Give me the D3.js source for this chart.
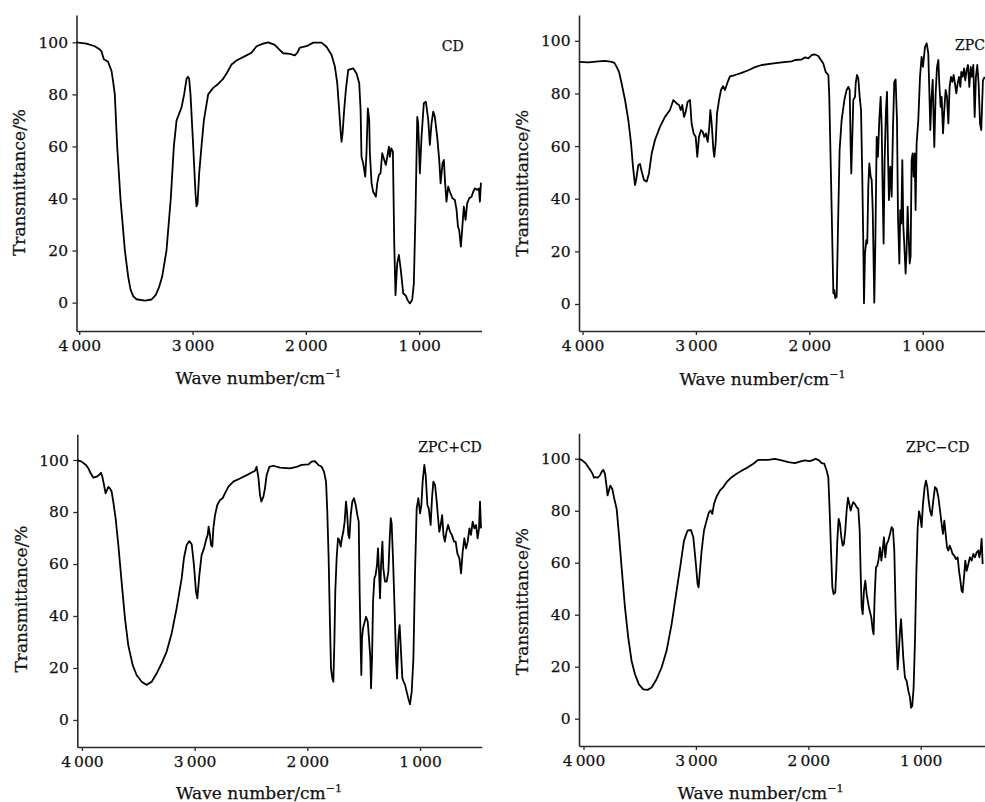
<!DOCTYPE html>
<html>
<head>
<meta charset="utf-8">
<script src="https://cdn.jsdelivr.net/npm/d3@7"></script>
<style>
  html, body { margin: 0; padding: 0; background: #ffffff; }
  svg { display: block; }
  text { font-family: "DejaVu Serif", serif; fill: #111; stroke: #111; stroke-width: 0.25px; }
</style>
</head>
<body>
<svg id="chart" width="985" height="802"></svg>
<script>
// ---------------- data ----------------
const xTickValues = [4000, 3000, 2000, 1000];
const yTickValues = [0, 20, 40, 60, 80, 100];
const xTitleText = "Wave number/cm";
const xTitleSup = "\u22121";
const yTitleText = "Transmittance/%";
const sampleLabels = ["CD", "ZPC", "ZPC+CD", "ZPC\u2212CD"];

// [wave number (cm^-1), transmittance (%)]
const cdSpectrum = [[4024,100],[3936,99.5],[3862,98.5],[3818,97.2],[3803,96.5],[3783,93.5],[3745,92.5],[3715,89],[3701,85],[3686,80],[3665,60],[3636,40],[3597,20],[3568,10],[3547,5],[3524,2.5],[3495,1.3],[3421,0.8],[3362,1.2],[3324,3],[3295,6],[3268,10],[3230,20],[3192,40],[3165,60],[3141,70],[3097,75],[3074,80],[3053,86],[3041,86.8],[3030,86],[3018,80],[2994,60],[2974,42],[2965,37],[2956,38],[2941,50],[2921,60],[2900,70],[2862,80],[2818,82.5],[2774,84],[2730,86],[2700,88],[2656,91.5],[2612,93],[2524,95],[2480,96],[2435,98.5],[2377,99.5],[2332,100],[2274,99],[2229,97],[2200,95.8],[2141,95.6],[2097,95],[2076,96],[2053,98],[1994,98.5],[1935,99.9],[1862,99.9],[1818,98.3],[1773,95.1],[1744,90.7],[1723,84.3],[1706,74],[1694,66.3],[1685,61.8],[1676,65],[1662,74],[1647,81.7],[1626,89.4],[1582,90],[1553,88],[1529,84.3],[1517,74],[1509,56],[1494,53.5],[1476,48.4],[1465,57.4],[1453,74.6],[1441,70.2],[1435,57.4],[1420,45.8],[1406,42.6],[1382,40.7],[1370,45.8],[1356,49],[1341,49.7],[1326,57.4],[1312,55.4],[1294,52.9],[1282,56],[1267,59.9],[1259,56],[1247,59.3],[1232,58],[1220,22.8],[1209,2.9],[1194,15.1],[1179,18.3],[1162,12.5],[1141,3.6],[1117,2.6],[1103,1],[1082,-0.3],[1062,1],[1047,7.4],[1032,35.6],[1017,71.4],[1009,68.9],[994,49.7],[979,63.8],[959,76.6],[941,77.2],[920,70.2],[906,60.6],[891,68.9],[876,73.4],[862,71.4],[841,63.8],[823,54.8],[811,45.8],[794,53.5],[782,54.8],[771,45.8],[759,38.8],[744,44.6],[729,42.6],[706,40.1],[685,39.4],[670,35.6],[658,29.2],[647,27.9],[632,21.5],[621,27.9],[606,36.9],[591,31.8],[576,38.2],[558,40.1],[538,40.7],[523,42.6],[508,43.9],[488,43.3],[473,43.9],[464,38.8],[455,46.1]];

const zpcSpectrum = [[4031,92],[3949,91.8],[3860,92.2],[3802,92.4],[3743,92],[3719,91.6],[3699,90.1],[3678,88.2],[3655,83.8],[3625,77.5],[3596,69.9],[3572,61],[3555,52.2],[3537,45.2],[3525,47.7],[3508,52.8],[3493,53.2],[3478,50.3],[3458,47.1],[3434,46.5],[3414,49.6],[3390,57.2],[3361,62.3],[3317,67.3],[3273,71.1],[3229,73.7],[3199,77.5],[3170,76.2],[3149,75.6],[3134,73.7],[3120,75.6],[3105,71.1],[3090,73],[3073,76.8],[3052,77.5],[3038,68.6],[3020,64.8],[3002,63.5],[2988,55.9],[2973,63.5],[2955,66.1],[2940,65.4],[2926,63.5],[2911,64.8],[2896,61.6],[2882,67.3],[2873,73.7],[2861,68.6],[2846,58.5],[2838,55.9],[2826,61],[2814,72.4],[2796,77.5],[2779,81.3],[2761,82.8],[2744,81.3],[2723,84],[2700,86.5],[2655,87],[2597,87.8],[2538,88.8],[2479,90],[2420,90.8],[2332,91.3],[2244,91.8],[2156,92.2],[2126,92.7],[2068,92.9],[2038,93.7],[2009,93.3],[1979,94.6],[1950,94.8],[1921,94.2],[1877,91.4],[1856,88.2],[1832,87],[1824,78.7],[1809,48.4],[1797,23],[1788,4.1],[1780,5.3],[1771,2.2],[1759,2.8],[1744,35.7],[1733,58.5],[1715,69.9],[1691,77.5],[1671,81.3],[1656,82.5],[1644,81.3],[1635,58.5],[1630,49.6],[1621,63.5],[1612,77.5],[1597,78.7],[1591,83.8],[1580,87],[1568,85.7],[1556,78.7],[1544,73.7],[1533,48.4],[1524,23],[1518,0.3],[1509,19.2],[1497,24.3],[1489,23],[1480,44.6],[1471,53.4],[1459,48.4],[1450,47.1],[1441,35.7],[1433,15.4],[1427,0.5],[1418,23],[1406,63.5],[1395,55.9],[1383,69.9],[1371,78.7],[1362,67.3],[1353,42],[1345,23],[1336,54.7],[1324,73.7],[1315,80.6],[1306,55.9],[1298,39.5],[1286,52.2],[1274,40.8],[1262,67.3],[1251,84.4],[1239,85.3],[1227,69.9],[1218,33.2],[1206,15.4],[1198,35.7],[1189,30.6],[1180,54.7],[1171,29.4],[1163,23],[1151,11.6],[1142,20.5],[1133,37],[1124,25.6],[1115,15.4],[1107,18],[1098,54.7],[1089,57.2],[1080,48.4],[1071,57.2],[1063,35.7],[1054,61],[1039,69.9],[1024,86.3],[1010,93.9],[998,90.1],[980,97.7],[965,99],[951,95.2],[942,81.3],[933,66.1],[924,77.5],[912,85.1],[904,69.9],[898,59.7],[886,80],[874,90.1],[862,92.7],[854,83.8],[842,74.9],[833,78.7],[821,64.8],[810,73.7],[798,81.3],[786,78.7],[774,68.6],[763,82.5],[751,86.3],[739,84.4],[727,87],[716,83.8],[704,80],[692,83.8],[680,86.3],[668,82.5],[660,88.2],[648,86.3],[636,89.5],[625,85],[613,88.9],[601,90.8],[589,82.5],[577,90.1],[566,86.3],[554,90.8],[542,71.1],[531,86.3],[519,90.8],[507,83.8],[495,68.6],[484,66.1],[469,85],[454,86.3]];

const zpcPlusCdSpectrum = [[4041,100],[4003,99.4],[3964,98.1],[3943,96.8],[3922,94.9],[3899,93.2],[3869,93.6],[3849,94.2],[3831,95.1],[3819,93.6],[3804,90.4],[3790,87.2],[3781,88.1],[3766,89.7],[3751,89.1],[3736,87.8],[3722,84],[3701,77.6],[3677,67.3],[3648,53.2],[3618,39.1],[3589,28.8],[3550,21.2],[3515,17.3],[3470,14.7],[3426,13.5],[3381,14.7],[3337,17.9],[3293,21.8],[3248,26.3],[3204,33.3],[3160,42.9],[3115,54.5],[3095,62.2],[3071,67.3],[3047,68.8],[3026,67.6],[3006,59.6],[2988,49.4],[2976,46.8],[2958,55.8],[2938,63.5],[2917,66],[2899,69.2],[2884,71.2],[2876,74.4],[2864,71.2],[2854,67.3],[2843,66.7],[2834,73.7],[2819,78.8],[2799,82.7],[2775,84.6],[2751,85.3],[2731,87.2],[2701,89.7],[2657,91.7],[2598,92.9],[2524,94.5],[2464,95.9],[2450,97.4],[2435,93.6],[2420,86.5],[2408,84],[2390,85.9],[2376,89.1],[2361,94.2],[2337,97.4],[2302,97.8],[2243,97.1],[2154,96.8],[2095,97.4],[2050,98.1],[1991,98.3],[1962,99.4],[1932,99.6],[1902,98.1],[1873,97.4],[1852,95.5],[1834,91.7],[1823,80.1],[1811,62.2],[1799,36.5],[1790,19.9],[1778,16],[1769,14.7],[1760,30.1],[1752,49.4],[1740,62.2],[1728,69.9],[1716,69.2],[1704,66.7],[1693,69.9],[1681,72.4],[1669,76.3],[1657,84],[1648,80.1],[1636,71.2],[1627,69.9],[1615,78.8],[1601,84],[1586,85.3],[1571,82.7],[1556,78.8],[1544,76.3],[1536,49.4],[1527,28.8],[1521,17.3],[1515,31.4],[1506,35.3],[1491,37.8],[1479,39.7],[1464,37.8],[1453,31.4],[1441,23.7],[1435,12.2],[1426,23.7],[1417,45.5],[1405,54.5],[1394,55.8],[1382,59.6],[1373,66],[1364,57.1],[1355,46.8],[1346,59.6],[1334,68.6],[1326,58.3],[1311,53.2],[1296,53.2],[1281,57.1],[1269,69.9],[1260,77.6],[1252,75.6],[1240,62.2],[1225,41.7],[1213,23.7],[1204,16],[1192,31.4],[1181,36.5],[1169,26.3],[1157,16],[1145,14.7],[1133,13.5],[1119,10.9],[1104,8.3],[1089,6],[1074,10.9],[1059,23.7],[1045,55.8],[1030,81.4],[1015,85.3],[1000,79.5],[988,82.7],[977,91.7],[962,98.1],[950,94.2],[935,82.7],[923,81.4],[906,75],[894,85.3],[882,91.7],[867,90.4],[852,84],[840,77.6],[829,72.4],[817,75],[804,78.8],[792,71.2],[780,68.6],[766,72.4],[751,75],[734,72.4],[718,71.2],[698,68.6],[684,68.6],[669,64.1],[651,62.2],[636,56.4],[622,64.7],[607,69.9],[592,66],[577,68.6],[562,73.7],[548,71.2],[533,76.3],[518,73.7],[503,75],[489,69.9],[477,73.7],[468,84],[459,73.7]];

const zpcMinusCdSpectrum = [[4041,100],[4011,99.4],[3981,98.3],[3958,96.8],[3937,95.5],[3919,94.2],[3907,92.7],[3892,92.9],[3874,92.7],[3854,93.6],[3839,94.9],[3824,95.8],[3809,94.2],[3794,89.1],[3786,85.9],[3774,87.8],[3762,89.7],[3744,88.4],[3726,84.6],[3705,80.7],[3685,71.1],[3661,58.2],[3631,42.8],[3602,31.2],[3572,22.2],[3542,17.1],[3507,13.2],[3468,11.3],[3430,11.1],[3394,12],[3350,15.2],[3305,19.7],[3261,26.1],[3216,36.4],[3172,49.2],[3136,59.5],[3106,68.5],[3074,72.4],[3044,72.6],[3023,69.8],[3000,59.5],[2985,51.8],[2976,50.5],[2964,56.9],[2949,64.7],[2928,72.4],[2905,76.2],[2884,79.4],[2869,80.1],[2854,78.8],[2839,82.6],[2816,85.5],[2786,87.8],[2756,89.1],[2727,91],[2682,92.9],[2638,94.2],[2578,95.8],[2534,96.8],[2489,98.1],[2445,99.6],[2356,99.6],[2297,100],[2237,99.4],[2178,98.7],[2119,98.3],[2059,99.1],[2030,99.4],[1985,99.1],[1955,99.6],[1935,100],[1905,99.4],[1881,98.3],[1858,98.1],[1837,95.5],[1822,92.9],[1810,80.1],[1798,64.7],[1786,50.5],[1775,47.9],[1760,48.6],[1751,56.9],[1742,68.5],[1730,76.9],[1718,74.9],[1706,69.8],[1694,66.6],[1683,67.2],[1671,72.4],[1659,80.1],[1647,85],[1635,82.6],[1623,80.1],[1611,82],[1600,83.3],[1585,82.6],[1570,81.4],[1555,80.7],[1543,72.4],[1534,55.7],[1525,42.8],[1516,40.2],[1505,49.2],[1493,53.1],[1481,47.9],[1466,44.1],[1454,41.5],[1439,38.9],[1428,34.4],[1419,32.5],[1410,46.7],[1398,58.2],[1386,58.9],[1374,61.4],[1362,65.9],[1350,60.8],[1339,64.7],[1327,69.8],[1315,62.1],[1303,67.2],[1288,68.5],[1273,71.1],[1259,73.7],[1247,73],[1235,64.7],[1223,41.5],[1214,28.7],[1205,19],[1196,24.8],[1184,33.8],[1175,38.3],[1167,32.5],[1155,23.5],[1140,15.8],[1125,14.5],[1110,10.7],[1095,8.1],[1086,4.2],[1075,4.9],[1063,12],[1051,29.9],[1039,55.7],[1027,73.7],[1015,79.8],[1003,77.5],[992,73.7],[980,82.6],[965,89.1],[953,91.6],[941,89.1],[929,83.9],[917,80.1],[903,78.1],[888,83.9],[873,89.1],[858,88.4],[843,85.2],[828,80.1],[814,74.9],[802,71.1],[790,76.2],[778,71.1],[766,65.9],[754,64.7],[742,66.6],[730,65.3],[716,63.4],[701,62.7],[686,61.4],[671,62.1],[659,56.9],[647,53.1],[636,49.2],[627,48.6],[615,54.4],[603,60.8],[591,56.9],[576,59.5],[562,62.1],[547,60.8],[532,63.4],[517,62.1],[502,64],[487,64.7],[478,62.1],[467,64.7],[458,69.2],[449,59.5]];

// ---------------- layout ----------------
const panels = [
  { data: cdSpectrum,         label: sampleLabels[0],
    xDom: [4024, 450], xRange: [76.5, 481.5], yDom: [-10.9, 110.5], yRange: [331, 15],
    labelPos: [441.7, 51.3], xTitlePos: [258.5, 384], yTitlePos: [25, 182.5] },
  { data: zpcSpectrum,        label: sampleLabels[1],
    xDom: [4031, 420], xRange: [579, 988.5], yDom: [-10.25, 109.8], yRange: [331, 15],
    labelPos: [955, 50], xTitlePos: [762.5, 385], yTitlePos: [528.3, 183.3] },
  { data: zpcPlusCdSpectrum,  label: sampleLabels[2],
    xDom: [4041, 453], xRange: [77.3, 481.7], yDom: [-10.4, 109.9], yRange: [747, 434.3],
    labelPos: [418.3, 451.7], xTitlePos: [259, 799], yTitlePos: [26.7, 599] },
  { data: zpcMinusCdSpectrum, label: sampleLabels[3],
    xDom: [4040, 428], xRange: [579, 985], yDom: [-10.5, 109.8], yRange: [746, 433.3],
    labelPos: [906, 451.7], xTitlePos: [760.5, 799], yTitlePos: [528.3, 601.7] }
];

const fmtWave = d => d >= 1000 ? `${Math.floor(d / 1000)}\u2009${String(d % 1000).padStart(3, "0")}` : String(d);

const svg = d3.select("#chart");
svg.append("rect").attr("width", 985).attr("height", 802).attr("fill", "#fff");

function styleAxis(g) {
  g.attr("font-family", null).attr("font-size", null);
  g.select(".domain").attr("stroke", "#2a2a2a").attr("stroke-width", 1.6);
  g.selectAll(".tick line").attr("stroke", "#2a2a2a").attr("stroke-width", 1.3);
  g.selectAll(".tick text").style("font-size", "15.5px").attr("fill", "#111");
}

panels.forEach(p => {
  const x = d3.scaleLinear().domain(p.xDom).range(p.xRange);
  const y = d3.scaleLinear().domain(p.yDom).range(p.yRange);
  const g = svg.append("g");

  const xAxis = g.append("g")
    .attr("transform", `translate(0,${p.yRange[0]})`)
    .call(d3.axisBottom(x).tickValues(xTickValues).tickSize(4).tickSizeOuter(0).tickPadding(5).tickFormat(fmtWave));
  styleAxis(xAxis);

  const yAxis = g.append("g")
    .attr("transform", `translate(${p.xRange[0]},0)`)
    .call(d3.axisLeft(y).tickValues(yTickValues).tickSize(4).tickSizeOuter(0).tickPadding(4.5));
  styleAxis(yAxis);

  const line = d3.line().x(d => x(d[0])).y(d => y(d[1])).curve(d3.curveLinear);
  g.append("path")
    .datum(p.data)
    .attr("d", line)
    .attr("fill", "none")
    .attr("stroke", "#000")
    .attr("stroke-width", 1.8)
    .attr("stroke-linejoin", "round");

  // sample label
  g.append("text")
    .attr("x", p.labelPos[0]).attr("y", p.labelPos[1])
    .style("font-size", "14px")
    .text(p.label);

  // x title
  const xt = g.append("text")
    .attr("x", p.xTitlePos[0]).attr("y", p.xTitlePos[1])
    .attr("text-anchor", "middle")
    .style("font-size", "17px");
  xt.append("tspan").text(xTitleText);
  xt.append("tspan").attr("dy", -7).style("font-size", "11px").text(xTitleSup);

  // y title
  g.append("text")
    .attr("transform", `translate(${p.yTitlePos[0]},${p.yTitlePos[1]}) rotate(-90)`)
    .attr("text-anchor", "middle")
    .style("font-size", "17px")
    .text(yTitleText);
});
</script>
</body>
</html>
